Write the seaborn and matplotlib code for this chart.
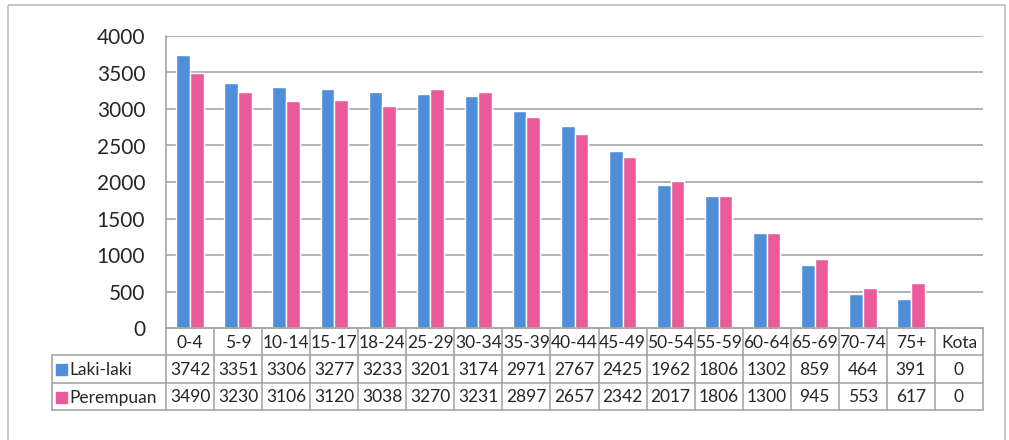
import numpy as np
import pandas as pd
import seaborn as sns
import matplotlib.pyplot as plt
from matplotlib.patches import Rectangle

# ---------------------------------------------------------------------------
# data
# ---------------------------------------------------------------------------
age_groups = ["0-4", "5-9", "10-14", "15-17", "18-24", "25-29", "30-34",
              "35-39", "40-44", "45-49", "50-54", "55-59", "60-64",
              "65-69", "70-74", "75+", "Kota"]
laki = [3742, 3351, 3306, 3277, 3233, 3201, 3174, 2971, 2767, 2425,
        1962, 1806, 1302, 859, 464, 391, 0]
perempuan = [3490, 3230, 3106, 3120, 3038, 3270, 3231, 2897, 2657, 2342,
             2017, 1806, 1300, 945, 553, 617, 0]
series_names = ["Laki-laki", "Perempuan"]
colors = ["#4F8FDA", "#EC5A99"]

df = pd.DataFrame({
    "umur": age_groups * 2,
    "jumlah": laki + perempuan,
    "jenis": [series_names[0]] * len(age_groups) + [series_names[1]] * len(age_groups),
})

# ---------------------------------------------------------------------------
# figure
# ---------------------------------------------------------------------------
sns.set_theme(style="white")
plt.rcParams["font.family"] = ["Lato", "DejaVu Sans"]
W, H = 1009, 440
fig = plt.figure(figsize=(W / 100, H / 100), dpi=100)

GRID = "#A6A6A6"
TXT = "#262626"
TABLE_FS = 12.5

# outer frame
frame = fig.add_axes([0, 0, 1, 1])
frame.set_xlim(0, W)
frame.set_ylim(H, 0)
frame.axis("off")
frame.add_patch(Rectangle((8, 5), 997, 440, fill=False, ec="#BDBDBD", lw=1.2))

px_left, px_right, px_top, px_bottom = 166, 983, 36, 328
ax = fig.add_axes([px_left / W, 1 - px_bottom / H,
                   (px_right - px_left) / W, (px_bottom - px_top) / H])

sns.barplot(data=df, x="umur", y="jumlah", hue="jenis", palette=colors,
            width=0.57, gap=0, ax=ax, legend=False, saturation=1)

ax.set_xlim(-0.5, len(age_groups) - 0.5)
ax.set_ylim(0, 4000)
ax.set_yticks(np.arange(0, 4001, 500))
ax.yaxis.grid(True, color=GRID, lw=1.2)
ax.set_axisbelow(True)
ax.set_xlabel("")
ax.set_ylabel("")
ax.set_xticklabels([])
ax.tick_params(axis="x", length=0)
ax.tick_params(axis="y", length=0, labelsize=15, colors=TXT, pad=15)
for side in ["top", "right"]:
    ax.spines[side].set_visible(False)
for side in ["left", "bottom"]:
    ax.spines[side].set_color(GRID)
    ax.spines[side].set_linewidth(1.2)

# ---------------------------------------------------------------------------
# data table below the chart
# ---------------------------------------------------------------------------
fig.canvas.draw()
edges = []
for i in range(len(age_groups) + 1):
    x_disp, _ = ax.transData.transform((i - 0.5, 0))
    edges.append(x_disp)

row_y = [px_bottom, 355, 383, 410]
label_left = 52

# vertical lines
for i, xe in enumerate(edges):
    frame.plot([xe, xe], [row_y[0], row_y[-1]], color=GRID, lw=1.2)
frame.plot([label_left, label_left], [row_y[1], row_y[-1]], color=GRID, lw=1.2)
# horizontal lines
frame.plot([edges[0], edges[-1]], [row_y[0], row_y[0]], color=GRID, lw=1.2)
for yy in row_y[1:]:
    frame.plot([label_left, edges[-1]], [yy, yy], color=GRID, lw=1.2)

# header
for i, lab in enumerate(age_groups):
    xc = (edges[i] + edges[i + 1]) / 2
    frame.text(xc, (row_y[0] + row_y[1]) / 2 + 1, lab, ha="center",
               va="center", fontsize=TABLE_FS, color=TXT)

# rows
for r, (name, vals, col) in enumerate(zip(series_names, [laki, perempuan], colors)):
    yc = (row_y[r + 1] + row_y[r + 2]) / 2 + 1
    frame.add_patch(Rectangle((label_left + 4, yc - 5.5), 11, 11, color=col))
    frame.text(label_left + 17, yc, name, ha="left", va="center",
               fontsize=TABLE_FS, color=TXT)
    for i, v in enumerate(vals):
        xc = (edges[i] + edges[i + 1]) / 2
        frame.text(xc, yc, str(v), ha="center", va="center",
                   fontsize=TABLE_FS, color=TXT)

fig.savefig("out.png", dpi=100)
